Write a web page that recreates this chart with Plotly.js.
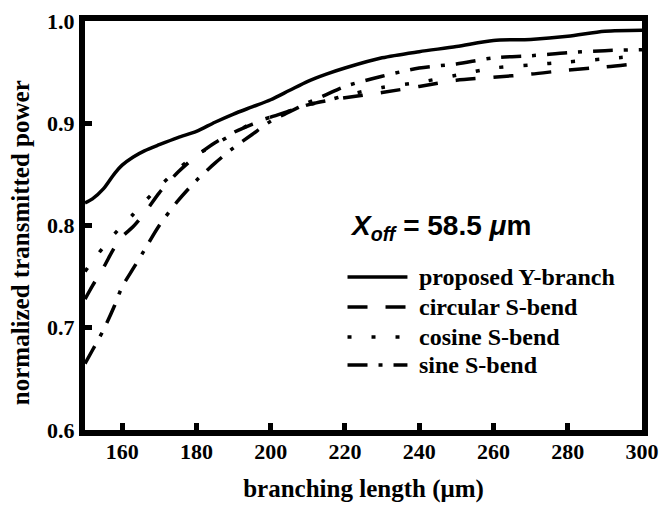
<!DOCTYPE html>
<html>
<head>
<meta charset="utf-8">
<script src="https://cdn.plot.ly/plotly-3.0.1.min.js"></script>
<style>
  html, body { margin: 0; padding: 0; background: #fff; }
  #chart { width: 662px; height: 506px; }
</style>
</head>
<body>
<div id="chart"></div>
<script>
// Branching length (µm)
const branchingLength = [150, 152, 155, 158, 160, 163, 166, 170, 175, 180, 185, 190, 195, 200, 205, 210, 215, 220, 230, 240, 250, 260, 270, 280, 290, 300];

// Normalized transmitted power
const proposedYBranch = [0.822, 0.826, 0.836, 0.851, 0.859, 0.867, 0.873, 0.879, 0.886, 0.892, 0.901, 0.909, 0.916, 0.923, 0.932, 0.941, 0.948, 0.954, 0.964, 0.970, 0.975, 0.981, 0.982, 0.985, 0.990, 0.991];
const circularSBend   = [0.728, 0.741, 0.759, 0.779, 0.789, 0.799, 0.812, 0.832, 0.852, 0.868, 0.881, 0.891, 0.899, 0.906, 0.912, 0.918, 0.922, 0.925, 0.930, 0.936, 0.942, 0.945, 0.948, 0.952, 0.955, 0.959];
const cosineSBend     = [0.755, 0.765, 0.779, 0.792, 0.800, 0.811, 0.823, 0.838, 0.855, 0.869, 0.879, 0.890, 0.900, 0.906, 0.912, 0.918, 0.922, 0.927, 0.935, 0.940, 0.947, 0.954, 0.957, 0.960, 0.963, 0.966];
const sineSBend       = [0.665, 0.678, 0.698, 0.722, 0.740, 0.758, 0.776, 0.800, 0.824, 0.844, 0.861, 0.876, 0.889, 0.902, 0.911, 0.920, 0.928, 0.936, 0.946, 0.954, 0.958, 0.964, 0.966, 0.969, 0.971, 0.972];

const seriesNames = ['proposed Y-branch', 'circular S-bend', 'cosine S-bend', 'sine S-bend'];
const seriesValues = [proposedYBranch, circularSBend, cosineSBend, sineSBend];
const seriesDash = ['solid', '20px,18px', '4px,20px', '20px,11px,4px,11px'];

const xTicks = [160, 180, 200, 220, 240, 260, 280, 300];
const yTicks = [0.6, 0.7, 0.8, 0.9, 1.0];

const serif = 'Liberation Serif, Times New Roman, serif';
const lineW = 3.5;

const traces = seriesValues.map((vals, i) => ({
  x: branchingLength,
  y: vals,
  type: 'scatter',
  mode: 'lines',
  name: seriesNames[i],
  showlegend: false,
  line: { color: '#000', width: lineW, dash: seriesDash[i], shape: 'spline', smoothing: 0.8 },
  hoverinfo: 'skip'
}));

// custom legend (long line samples like the original)
const legX0 = 0.4713, legX1 = 0.5789, legTextX = 0.5968;
const legY = [0.374, 0.3007, 0.2274, 0.1589];
const shapes = seriesNames.map((n, i) => ({
  type: 'line', xref: 'paper', yref: 'paper',
  x0: legX0, x1: legX1, y0: legY[i], y1: legY[i],
  line: { color: '#000', width: lineW, dash: seriesDash[i] }
}));
const annotations = seriesNames.map((n, i) => ({
  xref: 'paper', yref: 'paper', x: legTextX, y: legY[i],
  xanchor: 'left', yanchor: 'middle', showarrow: false,
  text: '<b>' + n + '</b>',
  font: { family: serif, size: 24, color: '#000' }
}));
annotations.push({
  xref: 'paper', yref: 'paper', x: 0.473, y: 0.494,
  xanchor: 'left', yanchor: 'middle', showarrow: false,
  text: '<b><i>X<sub>off</sub></i> = 58.5 <i>μ</i>m</b>',
  font: { family: 'Liberation Sans, Arial, sans-serif', size: 28, color: '#000' }
});
annotations.push({
  xref: 'paper', yref: 'paper', x: -0.1165, y: 0.457,
  xanchor: 'center', yanchor: 'middle', showarrow: false, textangle: -90,
  text: '<b>normalized transmitted power</b>',
  font: { family: serif, size: 25, color: '#000' }
});

const layout = {
  width: 662, height: 506,
  margin: { l: 85, r: 20, t: 21, b: 76 },
  paper_bgcolor: '#fff', plot_bgcolor: '#fff',
  showlegend: false,
  xaxis: {
    range: [150, 300],
    tickvals: xTicks,
    ticktext: xTicks.map(String),
    ticks: 'inside', ticklen: 7, tickwidth: 5, tickcolor: '#000',
    showline: true, linewidth: 6, linecolor: '#000', mirror: true,
    showgrid: false, zeroline: false,
    ticklabelstandoff: -3,
    tickfont: { family: serif, size: 22, color: '#000', weight: 'bold' },
    title: { text: '<b>branching length (μm)</b>', font: { family: serif, size: 25, color: '#000' }, standoff: 18 }
  },
  yaxis: {
    range: [0.6, 1.0],
    tickvals: yTicks,
    ticktext: yTicks.map(v => v.toFixed(1)),
    ticks: 'inside', ticklen: 7, tickwidth: 5, tickcolor: '#000',
    showline: true, linewidth: 6, linecolor: '#000', mirror: true,
    showgrid: false, zeroline: false,
    tickfont: { family: serif, size: 22, color: '#000', weight: 'bold' }
  },
  shapes: shapes,
  annotations: annotations
};

Plotly.newPlot('chart', traces, layout, { staticPlot: true, displayModeBar: false });
</script>
</body>
</html>
